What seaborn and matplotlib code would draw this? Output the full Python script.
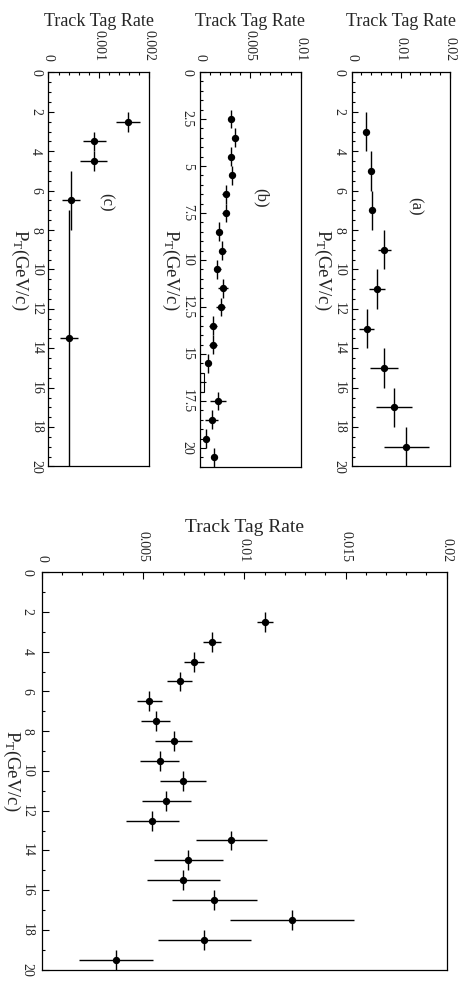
import matplotlib
matplotlib.use("Agg")
import matplotlib.pyplot as plt
from matplotlib.ticker import MultipleLocator
import seaborn as sns

# ---------------- data ----------------
# big panel (all tracks)
big_pt = [2.5, 3.5, 4.5, 5.5, 6.5, 7.5, 8.5, 9.5, 10.5, 11.5, 12.5, 13.5, 14.5, 15.5, 16.5, 17.5, 18.5, 19.5]
big_rate = [0.01104, 0.00841, 0.00752, 0.00681, 0.00531, 0.00561, 0.0065, 0.00581, 0.00696, 0.00615,
            0.00546, 0.00936, 0.00724, 0.00699, 0.00852, 0.01236, 0.00803, 0.00367]
big_rate_err = [0.0004, 0.00043, 0.00051, 0.00061, 0.00062, 0.00073, 0.0009, 0.00096, 0.00114, 0.00122,
                0.00129, 0.00176, 0.0017, 0.0018, 0.00211, 0.00305, 0.00231, 0.00183]
big_pt_err = [0.5] * 18

# panel (a)
a_pt = [3, 5, 7, 9, 11, 13, 15, 17, 19]
a_rate = [0.00292, 0.0040, 0.00414, 0.00667, 0.00516, 0.00306, 0.00667, 0.00869, 0.01114]
a_rate_err = [0.0005, 0.0005, 0.0005, 0.00137, 0.0017, 0.00153, 0.00286, 0.00363, 0.00455]
a_pt_err = [1] * 9

# panel (b)
b_pt = [2.5, 3.5, 4.5, 5.5, 6.5, 7.5, 8.5, 9.5, 10.5, 11.5, 12.5, 13.5, 14.5, 15.5, 17.5, 18.5, 19.5, 20.5]
b_rate = [0.00305, 0.00348, 0.00311, 0.00315, 0.00255, 0.00255, 0.00189, 0.00222, 0.00172, 0.00232,
          0.00206, 0.00129, 0.00132, 0.0008, 0.00179, 0.00116, 0.00057, 0.00142]
b_rate_err = [0.0002, 0.0002, 0.0002, 0.0002, 0.00035, 0.00035, 0.0003, 0.00035, 0.00035, 0.0005,
              0.00045, 0.0004, 0.0004, 0.0003, 0.00083, 0.00066, 0.0003, 0.0002]
b_pt_err = [0.5] * 18
b_empty_pt = [16.5]
b_empty_rate = [0.0003]
b_empty_rate_err = [0.0003]
b_empty_box = [0.0004]

# panel (c)
c_pt = [2.5, 3.5, 4.5, 6.5, 13.5]
c_rate = [0.00158, 0.00091, 0.0009, 0.00044, 0.00041]
c_rate_err = [0.00024, 0.000225, 0.000265, 0.00018, 0.000175]
c_pt_err = [0.5, 0.5, 0.5, 1.5, 6.5]

# ticks
big_rate_ticks = [0, 0.005, 0.01, 0.015, 0.02]
big_rate_labels = ["0", "0.005", "0.01", "0.015", "0.02"]
a_rate_ticks = [0, 0.01, 0.02]
a_rate_labels = ["0", "0.01", "0.02"]
b_rate_ticks = [0, 0.005, 0.01]
b_rate_labels = ["0", "0.005", "0.01"]
c_rate_ticks = [0, 0.001, 0.002]
c_rate_labels = ["0", "0.001", "0.002"]
pt_ticks = [0, 2, 4, 6, 8, 10, 12, 14, 16, 18, 20]
pt_labels = ["0", "2", "4", "6", "8", "10", "12", "14", "16", "18", "20"]
b_pt_ticks = [0, 2.5, 5, 7.5, 10, 12.5, 15, 17.5, 20]
b_pt_labels = ["0", "2.5", "5", "7.5", "10", "12.5", "15", "17.5", "20"]

rate_label = "Track Tag Rate"
pt_label = r"P$_\mathrm{T}$(GeV/c)"

# ---------------- style ----------------
sns.set_theme(style="ticks")
plt.rcParams["font.family"] = ["Liberation Serif", "DejaVu Serif"]
plt.rcParams["mathtext.fontset"] = "custom"
plt.rcParams["mathtext.rm"] = "Liberation Serif"
plt.rcParams["mathtext.it"] = "Liberation Serif:italic"

fig = plt.figure(figsize=(4.65, 9.85), dpi=100)
fig.patch.set_facecolor("white")

ax_big = fig.add_axes([0.0903, 0.0156, 0.8703, 0.4035])
ax_c = fig.add_axes([0.1043, 0.5264, 0.2161, 0.4001])
ax_b = fig.add_axes([0.4301, 0.5262, 0.2166, 0.4007])
ax_a = fig.add_axes([0.7563, 0.5264, 0.2106, 0.4001])


def draw(ax, pt, rate, rerr, perr, ms=28):
    ax.errorbar(rate, pt, xerr=rerr, yerr=perr, fmt="none", ecolor="black",
                elinewidth=1.0, capsize=0, zorder=2)
    sns.scatterplot(x=rate, y=pt, ax=ax, color="black", s=ms, linewidth=0,
                    edgecolor="black", zorder=3, legend=False)


def style(ax, xmax, ymax, xt, xl, xminor, yt, yl, yminor, big=False, title=None, tpos=None):
    ax.set_facecolor("white")
    ax.set_xlim(0, xmax)
    ax.set_ylim(ymax, 0)
    ax.xaxis.tick_top()
    ax.set_xticks(xt, labels=xl)
    ax.set_yticks(yt, labels=yl)
    ax.xaxis.set_minor_locator(MultipleLocator(xminor))
    ax.yaxis.set_minor_locator(MultipleLocator(yminor))
    for s in ax.spines.values():
        s.set_visible(True)
        s.set_color("black")
        s.set_linewidth(0.9)
    ax.tick_params(axis="x", which="both", direction="in", top=True, bottom=False,
                   labeltop=True, labelbottom=False, labelrotation=-90, color="black",
                   width=0.8, pad=7.5 if big else 8.0, labelsize=10)
    ax.tick_params(axis="y", which="both", direction="in", left=True, right=False,
                   labelrotation=-90, color="black", width=0.8,
                   pad=6 if big else 4.5, labelsize=10)
    ax.tick_params(which="major", length=5 if big else 4.5)
    ax.tick_params(which="minor", length=2.5 if big else 2.2)
    for lab in ax.get_yticklabels():
        lab.set_va("center")
    for lab in ax.get_xticklabels():
        lab.set_ha("center")
        lab.set_va("bottom")
    ax.grid(False)

    ax.set_xlabel(rate_label, fontsize=14 if big else 13, va="baseline")
    ax.xaxis.set_label_position("top")
    w_px = ax.get_position().width * 465
    h_px = ax.get_position().height * 985
    ax.xaxis.set_label_coords(0.5, 1 + (40 if big else 46.5) / h_px)
    ax.set_ylabel(pt_label, fontsize=13.5, rotation=-90, va="center", ha="center")
    ax.yaxis.set_label_coords(-(30 if big else 29) / w_px, 0.5)
    if title:
        ax.text(tpos[0], tpos[1], title, transform=ax.transAxes, rotation=-90,
                ha="center", va="center", fontsize=12)


draw(ax_big, big_pt, big_rate, big_rate_err, big_pt_err)
style(ax_big, 0.02, 20, big_rate_ticks, big_rate_labels, 0.001, pt_ticks, pt_labels, 1, big=True)

draw(ax_a, a_pt, a_rate, a_rate_err, a_pt_err)
style(ax_a, 0.02, 20, a_rate_ticks, a_rate_labels, 0.002, pt_ticks, pt_labels, 0.5,
      title="(a)", tpos=(0.65, 0.66))

draw(ax_b, b_pt, b_rate, b_rate_err, b_pt_err)
ax_b.barh(b_empty_pt, b_empty_box, height=1.0, left=0, facecolor="none",
          edgecolor="black", linewidth=0.8, zorder=2)
ax_b.errorbar(b_empty_rate, b_empty_pt, xerr=b_empty_rate_err, fmt="none",
              ecolor="black", elinewidth=0.8, capsize=0, zorder=2)
style(ax_b, 0.01, 21, b_rate_ticks, b_rate_labels, 0.001, b_pt_ticks, b_pt_labels, 0.5,
      title="(b)", tpos=(0.6, 0.68))

draw(ax_c, c_pt, c_rate, c_rate_err, c_pt_err)
style(ax_c, 0.002, 20, c_rate_ticks, c_rate_labels, 0.0002, pt_ticks, pt_labels, 0.5,
      title="(c)", tpos=(0.57, 0.67))

fig.savefig("out.png", dpi=100, facecolor="white")
